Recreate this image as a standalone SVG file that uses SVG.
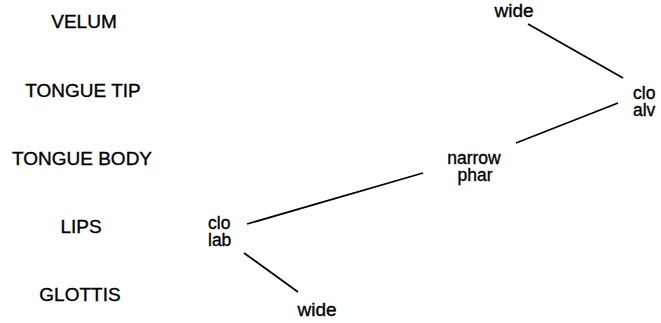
<svg xmlns="http://www.w3.org/2000/svg" width="661" height="323" viewBox="0 0 661 323">
<style>
text { font-family: "Liberation Sans", Arial, sans-serif; font-size: 19px; fill: #000; stroke: #000; stroke-width: 0.35; }
.tier { text-anchor: middle; }
.s { font-size: 17.5px; }
.c { text-anchor: middle; }
.l { text-anchor: start; }
.conn line { stroke: #000; stroke-width: 1.8; stroke-linecap: butt; }
</style>
<rect width="661" height="323" fill="#fff"/>
<g id="tiers">
  <text class="tier" x="84" y="28">VELUM</text>
  <text class="tier" x="83" y="97">TONGUE TIP</text>
  <text class="tier" x="82" y="165">TONGUE BODY</text>
  <text class="tier" x="81" y="233">LIPS</text>
  <text class="tier" x="80" y="301">GLOTTIS</text>
</g>
<g id="velum-wide"><text class="c" x="514" y="17">wide</text></g>
<g id="tt-clo-alv"><text class="l s" x="633" y="99">clo</text><text class="l s" x="633" y="116">alv</text></g>
<g id="tb-narrow-phar"><text class="c s" x="474" y="164">narrow</text><text class="c s" x="475" y="181">phar</text></g>
<g id="lips-clo-lab"><text class="l s" x="208" y="229">clo</text><text class="l s" x="208" y="246">lab</text></g>
<g id="glottis-wide"><text class="c" x="317" y="316">wide</text></g>
<g id="connectors" class="conn">
  <line x1="528" y1="24" x2="623" y2="78"/>
  <line x1="618" y1="103" x2="516" y2="143"/>
  <line x1="423" y1="173" x2="247" y2="224"/>
  <line x1="244" y1="253" x2="298" y2="292"/>
</g>
</svg>
